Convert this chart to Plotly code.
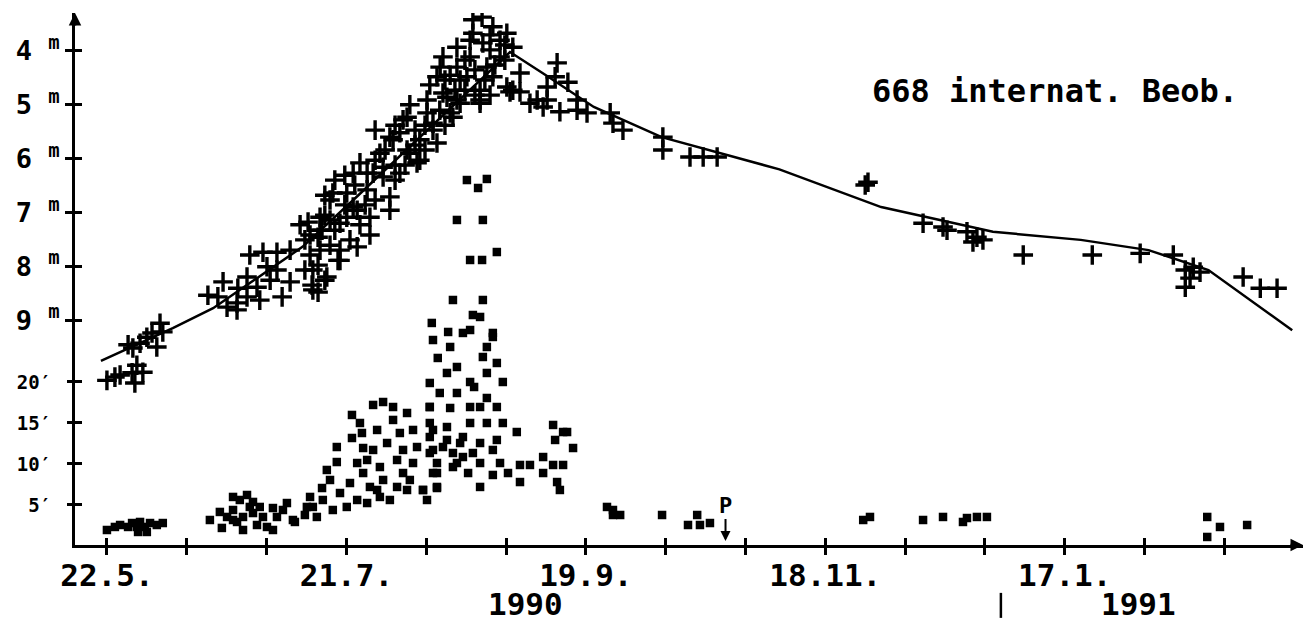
import plotly.graph_objects as go

# ---------------- data (days counted from 22.5.1990) ----------------
mag_day = [0.0, 2.0, 3.3, 6.3, 7.0, 9.0, 7.5, 6.5, 8.3, 10.0, 12.5, 14.0, 13.3, 11.3, 5.3,
           25.3, 29.1, 30.1, 32.6, 32.8, 35.1, 35.8, 39.1, 42.6, 45.9, 35.1, 37.6, 40.9, 43.9, 45.9,
           38.3, 32.6, 27.8, 40.1, 42.6,
           49.6, 50.9, 52.9, 49.6, 51.4, 52.9, 53.9, 50.4,
           51.6, 51.6, 55.1, 53.4, 52.9, 57.1, 55.9, 60.1, 60.9, 58.4, 63.4, 65.2, 65.9, 62.7, 69.2,
           70.9, 68.4, 70.9, 74.2, 75.2, 77.7, 78.4, 80.2, 81.7, 82.7, 85.2, 86.7, 88.5, 62.7, 66.7,
           60.1, 53.4, 53.4, 65.2, 73.4, 75.2, 82.7, 84.2, 87.7, 91.7, 94.0, 96.7, 100.2, 101.7, 98.5,
           95.2, 90.2, 93.5, 87.7, 83.5, 91.0, 96.7, 100.2, 101.7, 93.5, 84.2, 80.2, 86.0, 81.7, 75.9,
           71.7, 69.2, 61.7, 56.6, 55.9, 61.7, 73.4, 87.7, 94.2, 98.5, 91.7, 67.2, 72.2, 77.2, 79.7,
           84.7, 89.7, 96.0, 92.2, 58.4, 57.9, 54.6,
           48.4, 50.9, 54.6, 55.9, 57.1, 59.6, 59.6, 62.1, 63.4, 64.7, 67.2, 67.2, 69.7, 72.2, 72.2,
           74.7, 75.9, 77.2, 79.7, 80.9, 83.4, 86.0, 87.2, 89.7, 91.0, 92.2, 94.7, 96.0, 97.2, 99.7,
           99.7, 96.0, 88.5, 84.7, 78.4, 70.9, 65.9, 58.4, 54.6,
           103.5, 101.0, 103.5, 112.8, 112.3, 115.5, 110.3, 110.3, 107.8, 106.0, 109.3, 113.5, 117.8,
           117.8, 120.3, 126.1, 126.8, 129.3, 139.3, 139.3, 146.1, 149.4, 152.9, 93.5,
           190.0, 190.7, 204.5, 209.5, 210.5, 215.5, 218.0, 219.5, 217.0, 229.6, 246.9, 258.9, 267.2,
           270.2, 272.2, 273.9, 270.2, 284.7, 289.0, 293.2, 271.4]
mag_val = [10.12, 10.06, 10.02, 9.98, 10.17, 9.97, 9.84, 9.52, 9.43, 9.32, 9.50, 9.22, 9.06, 9.24, 9.46,
           8.54, 8.29, 8.76, 8.68, 8.41, 8.20, 7.79, 7.74, 7.74, 7.70, 8.57, 8.39, 8.26, 8.57, 8.29,
           8.63, 8.81, 8.57, 8.01, 8.07,
           7.51, 7.79, 7.98, 8.07, 8.35, 8.48, 7.33, 7.18,
           8.07, 8.44, 8.20, 7.09, 7.46, 6.40, 6.77, 6.64, 7.51, 7.20, 6.08, 6.58, 7.09, 7.64, 6.34,
           6.71, 5.90, 5.60, 5.28, 5.84, 6.08, 5.65, 4.91, 5.34, 5.71, 4.86, 5.23, 4.97, 6.96, 6.27,
           7.09, 7.70, 7.33, 6.27, 5.52, 5.23, 4.48, 4.11, 3.93, 3.67, 3.37, 3.55, 3.67, 3.93, 4.11,
           4.30, 4.48, 4.91, 4.91, 4.30, 4.11, 4.48, 4.67, 4.73, 4.73, 4.78, 5.15, 5.15, 5.47, 5.90,
           5.65, 6.16, 6.90, 6.64, 7.14, 6.27, 6.27, 4.30, 3.85, 3.80, 3.42, 5.47, 6.12, 5.47, 5.84,
           4.54, 4.73, 3.98, 4.35, 7.70, 7.89, 6.68,
           7.23, 7.42, 7.05, 7.61, 7.33, 6.31, 6.86, 6.49, 7.23, 6.86, 6.03, 6.77, 5.84, 5.38, 6.40,
           6.12, 5.00, 5.75, 5.38, 4.63, 5.10, 4.45, 4.73, 4.17, 3.80, 4.82, 4.54, 3.70, 4.26, 4.17,
           3.89, 4.82, 4.54, 5.38, 6.03, 6.96, 7.42, 7.89, 8.26,
           4.41, 4.76, 4.76, 4.22, 4.48, 4.58, 4.67, 4.91, 4.91, 4.97, 5.04, 5.13, 4.91,
           5.10, 5.15, 5.15, 5.34, 5.47, 5.60, 5.84, 5.97, 5.97, 5.97, 4.97,
           6.49, 6.44, 7.20, 7.27, 7.33, 7.36, 7.46, 7.51, 7.55, 7.79, 7.79, 7.76, 7.79,
           8.07, 8.02, 8.11, 8.39, 8.20, 8.41, 8.41, 8.22]

fit_day = [-1.5, 16.5, 26.6, 49.0, 62.0, 75.0, 88.0, 101.0, 110.0, 122.0, 139.0, 168.5,
           194.0, 222.0, 244.0, 261.0, 276.0, 297.0]
fit_mag = [9.76, 9.15, 8.78, 7.64, 6.75, 5.84, 4.93, 4.02, 4.45, 5.04, 5.60, 6.20,
           6.90, 7.36, 7.51, 7.70, 8.07, 9.19]

coma_day = [0.0, 2.0, 3.3, 5.3, 6.3, 7.5, 8.3, 9.5, 10.8, 12.5, 14.0, 7.8, 10.0,
            25.8, 28.3, 28.8, 31.6, 31.6, 33.3, 35.1, 36.6, 36.6, 34.1, 32.6, 34.1, 37.6, 39.1,
            40.1, 41.6, 42.6, 44.1, 45.1, 46.6, 41.6, 38.3, 31.6, 35.8, 30.1,
            47.1, 49.6, 50.9, 51.6, 53.9, 55.1, 55.9, 57.6, 57.6, 58.4, 60.1, 60.9, 61.4, 61.4,
            63.4, 63.9, 64.2, 65.2, 64.2, 65.9, 66.7, 67.7, 66.7, 68.4, 69.2, 69.2, 70.9, 71.7,
            71.7, 70.2, 72.7, 73.4, 74.2, 75.2, 75.2, 74.2, 76.7, 77.7, 76.7, 75.9, 79.2, 80.2,
            82.7, 82.7, 81.7, 81.7, 80.9, 84.2, 85.2, 86.7, 88.5, 89.2, 68.4, 65.2, 62.7, 56.6,
            54.1, 52.6, 50.1, 62.7, 67.7, 72.7,
            90.2, 95.2, 93.0, 87.7, 94.2, 91.0, 94.0, 97.7, 86.7, 94.2, 91.7, 81.4, 85.5, 89.2,
            96.7, 81.7, 86.0, 95.2, 82.9, 94.2, 87.7, 97.7, 85.2, 95.2, 80.9, 91.0, 99.2, 83.4,
            87.7, 95.2, 80.9, 86.0, 91.0, 97.7, 80.9, 91.0, 95.2, 99.2, 102.7, 111.8, 114.3,
            112.3, 116.8, 80.9, 85.2, 89.2, 93.5, 97.7, 80.9, 86.7, 91.7, 96.7, 82.7, 87.7, 93.5,
            98.5, 103.5, 106.0, 109.3, 111.8, 114.3, 90.5, 96.7, 100.5, 103.5, 109.3, 112.8,
            113.5, 81.7, 82.7, 93.5, 79.2, 93.5, 91.0, 96.7, 92.0, 93.5, 115.3,
            125.3, 126.8, 126.8, 128.6, 139.1, 145.6, 147.9, 148.6, 151.1,
            189.5, 191.2, 204.5, 209.5, 214.5, 215.5, 218.0, 220.5,
            275.7, 278.9, 275.7, 285.7]
coma_val = [1.95, 2.32, 2.56, 2.32, 2.80, 2.32, 2.93, 2.32, 2.80, 2.56, 2.80, 1.71, 1.71,
            3.17, 4.15, 2.20, 4.39, 5.98, 5.61, 6.22, 5.37, 4.02, 3.54, 2.93, 1.95, 2.56, 3.54,
            2.32, 1.95, 3.54, 4.39, 5.24, 3.17, 4.63, 4.76, 3.17, 4.76, 3.54,
            2.93, 3.78, 5.98, 4.76, 7.07, 9.27, 8.05, 10.24, 12.07, 6.46, 4.76, 7.68, 15.98, 13.17,
            15.00, 13.78, 11.95, 10.49, 8.90, 7.20, 17.20, 14.15, 11.71, 9.63, 17.56, 8.05, 5.61, 16.95,
            15.37, 12.56, 10.49, 13.78, 8.90, 16.22, 6.83, 11.71, 14.15, 12.07, 10.12, 8.05, 6.83, 5.61,
            7.20, 8.90, 11.71, 14.15, 16.95, 12.07, 14.51, 9.63, 12.56, 10.85, 5.98, 5.24, 5.61, 4.39,
            5.61, 3.54, 4.76, 10.12, 6.83, 7.20,
            44.63, 44.76, 43.66, 39.76, 39.76, 34.88, 34.88, 35.85, 30.00, 30.00, 28.17, 27.20, 26.10, 25.98,
            25.98, 25.12, 24.27, 24.27, 22.93, 23.05, 21.83, 22.32, 21.10, 21.10, 19.88, 20.00, 20.00, 18.66,
            18.66, 18.05, 16.95, 16.83, 16.95, 16.95, 15.00, 15.00, 15.00, 15.00, 13.90, 14.76, 13.90,
            12.93, 11.95, 13.29, 12.93, 13.29, 12.56, 12.93, 11.34, 11.34, 11.34, 11.71, 10.12, 10.12, 10.12,
            10.12, 9.88, 9.88, 10.85, 9.88, 9.88, 8.90, 8.66, 8.90, 7.80, 8.90, 7.80,
            6.83, 8.90, 7.07, 7.20, 6.83, 27.93, 26.34, 25.49, 19.39, 16.95, 13.90,
            4.76, 4.39, 3.78, 3.78, 3.78, 2.56, 3.78, 2.56, 2.80,
            3.17, 3.54, 3.17, 3.54, 2.93, 3.41, 3.54, 3.54,
            3.54, 2.32, 1.10, 2.56]

x_tick_day = [0, 20, 40, 60, 80, 100, 120, 140, 160, 180, 200, 220, 240, 260, 280]
x_label_day = [0, 60, 120, 180, 240]
x_label_text = ["22.5.", "21.7.", "19.9.", "18.11.", "17.1."]
mag_ticks = [4, 5, 6, 7, 8, 9]
mag_tick_text = ["4 <sup>m</sup>", "5 <sup>m</sup>", "6 <sup>m</sup>", "7 <sup>m</sup>",
                 "8 <sup>m</sup>", "9 <sup>m</sup>"]
coma_ticks = [5, 10, 15, 20]
coma_tick_text = ["5′", "10′", "15′", "20′"]
year_day = [105.0, 258.6]
year_text = ["1990", "1991"]
new_year_day = 224.0
perihelion_day = 155.0
obs_text = "668 internat. Beob."

# ---------------- figure ----------------
FONT = "DejaVu Sans Mono"
X_RANGE = [-8.0, 299.7]
MAG_RANGE = [13.18, 3.294]
COMA_RANGE = [0.12, 65]

fig = go.Figure()
fig.add_trace(go.Scatter(x=fit_day, y=fit_mag, mode="lines",
                         line=dict(color="black", width=2.5), xaxis="x", yaxis="y",
                         showlegend=False, hoverinfo="skip"))
fig.add_trace(go.Scatter(x=mag_day, y=mag_val, mode="markers", xaxis="x", yaxis="y",
                         marker=dict(symbol="cross-thin", size=14,
                                     line=dict(width=3.4, color="black")),
                         showlegend=False))
fig.add_trace(go.Scatter(x=coma_day, y=coma_val, mode="markers", xaxis="x", yaxis="y2",
                         marker=dict(symbol="square", size=8.5, color="black",
                                     line=dict(width=0)),
                         showlegend=False))
# empty traces that carry the inner halves of the crossing tick marks
fig.add_trace(go.Scatter(x=[], y=[], xaxis="x2", yaxis="y3", showlegend=False))
fig.add_trace(go.Scatter(x=[], y=[], xaxis="x", yaxis="y4", showlegend=False))

tick_common = dict(ticklen=7, tickwidth=2.5, tickcolor="black", showgrid=False,
                   zeroline=False, automargin=False)

fig.update_layout(
    width=1297, height=614,
    margin=dict(l=67, r=2, t=5, b=77),
    paper_bgcolor="white", plot_bgcolor="white",
    xaxis=dict(range=X_RANGE, tickmode="array", tickvals=x_label_day, ticktext=x_label_text,
               ticks="outside", showline=True, linewidth=3, linecolor="black",
               tickfont=dict(family=FONT, size=31, color="black", weight="bold"),
               minor=dict(tickmode="array", tickvals=x_tick_day, ticks="outside", ticklen=7,
                          tickwidth=2.5, tickcolor="black", showgrid=False),
               ticklabelstandoff=-6, anchor="y", **tick_common),
    xaxis2=dict(range=X_RANGE, overlaying="x", anchor="y", side="bottom", tickmode="array",
                tickvals=x_tick_day, ticks="inside", showticklabels=False, showline=False,
                **tick_common),
    yaxis=dict(range=MAG_RANGE, tickmode="array", tickvals=mag_ticks, ticktext=mag_tick_text,
               ticks="outside", showline=True, linewidth=3, linecolor="black",
               tickfont=dict(family=FONT, size=27, color="black", weight="bold"),
               anchor="x", **tick_common),
    yaxis2=dict(range=COMA_RANGE, overlaying="y", side="left", anchor="x", tickmode="array",
                tickvals=coma_ticks, ticktext=coma_tick_text, ticks="outside", showline=False,
                tickfont=dict(family=FONT, size=19, color="black", weight="bold"),
                ticklabelstandoff=12, **tick_common),
    yaxis3=dict(range=MAG_RANGE, overlaying="y", side="left", anchor="x2", tickmode="array",
                tickvals=mag_ticks, ticks="inside", showticklabels=False, showline=False,
                **tick_common),
    yaxis4=dict(range=COMA_RANGE, overlaying="y", side="left", anchor="x", tickmode="array",
                tickvals=coma_ticks, ticks="inside", showticklabels=False, showline=False,
                **tick_common),
)

annotations = []
# axis arrow heads
annotations.append(dict(x=1, y=0, xref="paper", yref="paper", text="", showarrow=True,
                        ax=-14, ay=0, arrowhead=2, arrowsize=1, arrowwidth=2.5,
                        arrowcolor="black"))
annotations.append(dict(x=0, y=1, xref="paper", yref="paper", text="", showarrow=True,
                        ax=0, ay=14, arrowhead=2, arrowsize=1, arrowwidth=2.5,
                        arrowcolor="black"))
# number of observations
annotations.append(dict(x=0.798, y=0.853, xref="paper", yref="paper",
                        xanchor="center", yanchor="middle", text="<b>" + obs_text + "</b>",
                        showarrow=False,
                        font=dict(family=FONT, size=32, color="black", weight="bold")))
# year labels
for d, t in zip(year_day, year_text):
    annotations.append(dict(x=d, y=-0.111, xref="x", yref="paper", text="<b>" + t + "</b>",
                            xanchor="center", yanchor="middle", showarrow=False,
                            font=dict(family=FONT, size=31, color="black", weight="bold")))
# perihelion marker
annotations.append(dict(x=perihelion_day, y=0.6, xref="x", yref="y2", text="<b>P</b>",
                        showarrow=True, ax=0, ay=-36, arrowhead=2, arrowsize=1,
                        arrowwidth=2, arrowcolor="black",
                        font=dict(family=FONT, size=22, color="black", weight="bold")))
fig.update_layout(annotations=annotations)

# year boundary mark
fig.add_shape(type="line", xref="x", yref="paper", x0=new_year_day, x1=new_year_day,
              y0=-0.090, y1=-0.137, line=dict(color="black", width=2.5))

fig.write_html("out.html")
